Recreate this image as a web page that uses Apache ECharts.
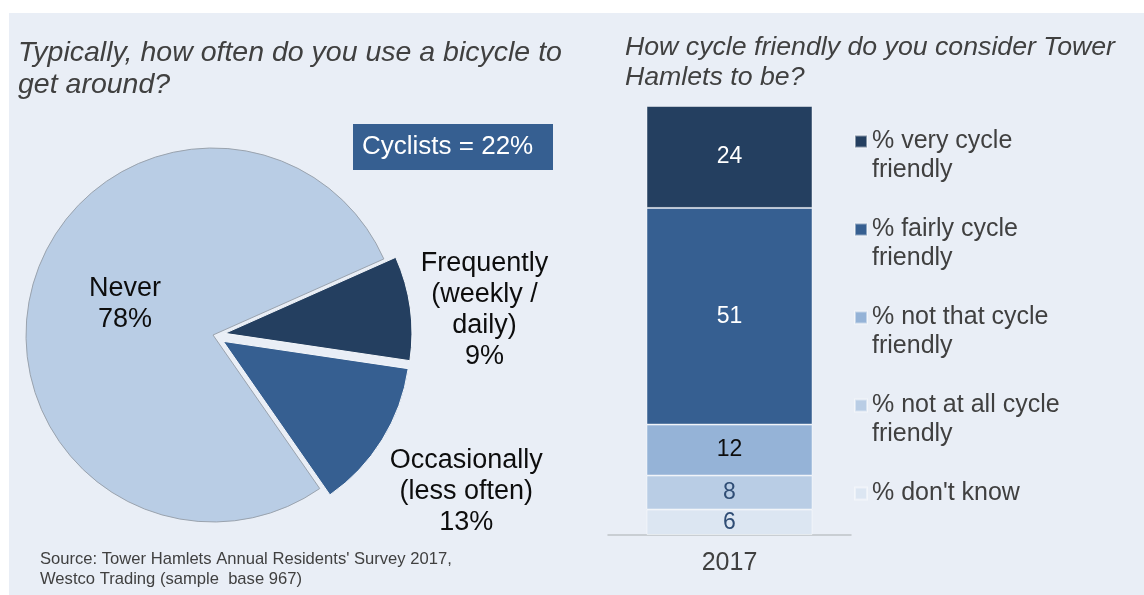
<!DOCTYPE html>
<html>
<head>
<meta charset="utf-8">
<script src="https://cdn.jsdelivr.net/npm/echarts@6/dist/echarts.min.js"></script>
<style>
  html, body { margin: 0; padding: 0; background: #ffffff; }
  #main { width: 1144px; height: 595px; }
</style>
</head>
<body>
<div id="main"></div>
<script>
// 饼图: how often do you use a bicycle
var usageNames = ['Frequently\n(weekly /\ndaily)', 'Occasionally\n(less often)', 'Never'];
var usageValues = [9, 13, 78];
var usageColors = ['#243f60', '#365f91', '#b9cde5'];

// 堆叠柱: how cycle friendly (bottom -> top)
var years = ['2017'];
var friendlyNames = ["% don't know", '% not at all cycle\nfriendly', '% not that cycle\nfriendly', '% fairly cycle\nfriendly', '% very cycle\nfriendly'];
var friendlyValues = [6, 8, 12, 51, 24];
var friendlyColors = ['#dce6f2', '#b9cde5', '#95b3d7', '#365f91', '#243f60'];
var friendlyLabelColors = ['#2f4d75', '#2f4d75', '#0d0d0d', '#ffffff', '#ffffff'];

var FONT = "'Liberation Sans', Arial, sans-serif";
var chart = echarts.init(document.getElementById('main'));

// 饼图标签偏移 (relative to the inside anchor)
var pieLabelShift = [[164, -10], [161, 99], [5, -5]];

var pieData = usageNames.map(function (n, i) {
  return {
    name: n,
    value: usageValues[i],
    selected: i < 2,
    itemStyle: i < 2
      ? { color: usageColors[i], borderColor: '#f4f7fb', borderWidth: 1 }
      : { color: usageColors[i], borderColor: '#9aa3ae', borderWidth: 1 }
  };
});

var barSeries = friendlyNames.map(function (n, i) {
  return {
    name: n,
    type: 'bar',
    stack: 'total',
    barWidth: 166,
    data: [friendlyValues[i]],
    itemStyle: { color: friendlyColors[i], borderColor: 'rgba(255,255,255,0.45)', borderWidth: 1 },
    label: {
      show: true,
      position: 'inside',
      formatter: '{c}',
      fontSize: 23,
      fontFamily: FONT,
      color: friendlyLabelColors[i]
    },
    emphasis: { disabled: true }
  };
});

// legend top -> bottom
var legendData = friendlyNames.slice().reverse();

var option = {
  backgroundColor: '#ffffff',
  animation: false,
  graphic: [
    { type: 'rect', z: -10, shape: { x: 9, y: 13, width: 1135, height: 582 }, style: { fill: '#e9eef6' } },
    { type: 'rect', shape: { x: 353, y: 124, width: 200, height: 46 }, style: { fill: '#365f91' } },
    {
      type: 'text', x: 362, y: 147,
      style: {
        text: 'Cyclists = ' + (usageValues[0] + usageValues[1]) + '%',
        fill: '#ffffff', font: '26px ' + FONT, verticalAlign: 'middle', align: 'left'
      }
    }
  ],
  title: [{
    text: 'Typically, how often do you use a bicycle to\nget around?',
    left: 18, top: 37, padding: 0,
    textStyle: { fontSize: 28.5, fontStyle: 'italic', fontWeight: 'normal', color: '#404040', lineHeight: 32, fontFamily: FONT }
  }, {
    text: 'How cycle friendly do you consider Tower\nHamlets to be?',
    left: 625, top: 33, padding: 0,
    textStyle: { fontSize: 26.7, fontStyle: 'italic', fontWeight: 'normal', color: '#404040', lineHeight: 30, fontFamily: FONT }
  }, {
    text: "Source: Tower Hamlets Annual Residents' Survey 2017,\nWestco Trading (sample  base 967)",
    left: 40, top: 550, padding: 0,
    textStyle: { fontSize: 16.6, fontWeight: 'normal', color: '#404040', lineHeight: 19.5, fontFamily: FONT }
  }],
  legend: {
    orient: 'vertical',
    left: 854,
    top: 98,
    padding: 0,
    icon: 'rect',
    itemWidth: 12,
    itemHeight: 12,
    itemGap: 1,
    selectedMode: false,
    data: legendData,
    // keep the square beside the first line of each entry
    formatter: function (name) {
      return ' \n' + name + (name.indexOf('\n') < 0 ? '\n ' : '');
    },
    textStyle: { fontSize: 25, lineHeight: 29, color: '#404040', fontFamily: FONT }
  },
  grid: { left: 608, top: 106, width: 243, height: 429 },
  xAxis: {
    type: 'category',
    data: years,
    axisLine: { lineStyle: { color: '#bfc3c8', width: 1.5 } },
    axisTick: { show: false },
    axisLabel: { fontSize: 25, color: '#404040', margin: 16, fontFamily: FONT }
  },
  yAxis: { type: 'value', min: 0, max: 101, show: false, splitLine: { show: false } },
  series: [{
    type: 'pie',
    center: [213, 335],
    radius: 187,
    startAngle: 24,
    clockwise: true,
    avoidLabelOverlap: false,
    selectedMode: 'multiple',
    selectedOffset: 12,
    data: pieData,
    label: {
      show: true,
      position: 'inside',
      formatter: '{b}\n{c}%',
      fontSize: 27,
      lineHeight: 31,
      color: '#0d0d0d',
      fontFamily: FONT
    },
    labelLine: { show: false },
    labelLayout: function (p) {
      var s = pieLabelShift[p.dataIndex];
      return { dx: s[0], dy: s[1] };
    },
    select: { itemStyle: { borderColor: '#f4f7fb', borderWidth: 1 }, label: { color: '#0d0d0d' } },
    emphasis: { disabled: true }
  }].concat(barSeries)
};

chart.setOption(option);
</script>
</body>
</html>
